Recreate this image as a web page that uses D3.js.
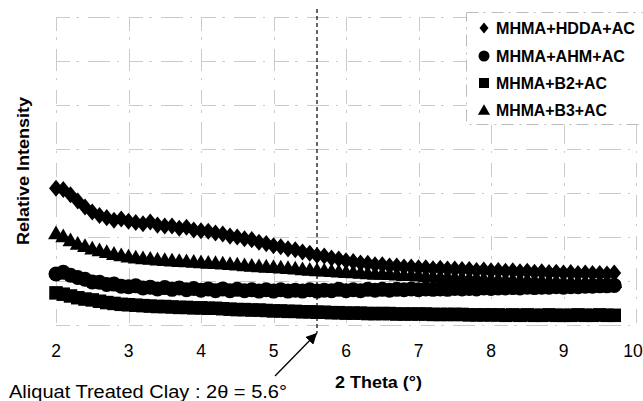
<!DOCTYPE html>
<html>
<head>
<meta charset="utf-8">
<script src="https://cdn.jsdelivr.net/npm/d3@7"></script>
<style>
  html, body { margin: 0; padding: 0; background: #fff; }
  svg { display: block; }
  text { font-family: Arial, "Liberation Sans", sans-serif; fill: #000; }
</style>
</head>
<body>
<svg id="chart" width="643" height="401"></svg>
<script>
// ---- data ----
const twoTheta = [2.0,2.1,2.2,2.3,2.4,2.5,2.6,2.7,2.8,2.9,3.0,3.1,3.2,3.3,3.4,3.5,3.6,3.7,3.8,3.9,
  4.0,4.1,4.2,4.3,4.4,4.5,4.6,4.7,4.8,4.9,5.0,5.1,5.2,5.3,5.4,5.5,5.6,5.7,5.8,5.9,
  6.0,6.1,6.2,6.3,6.4,6.5,6.6,6.7,6.8,6.9,7.0,7.1,7.2,7.3,7.4,7.5,7.6,7.7,7.8,7.9,
  8.0,8.1,8.2,8.3,8.4,8.5,8.6,8.7,8.8,8.9,9.0,9.1,9.2,9.3,9.4,9.5,9.6,9.7];

const hdda = [3.11,3.08,2.96,2.82,2.68,2.57,2.49,2.44,2.38,2.41,2.36,2.33,2.30,2.34,2.27,2.25,2.25,2.20,2.22,2.16,
  2.14,2.13,2.09,2.07,2.02,2.00,1.96,1.94,1.88,1.85,1.80,1.78,1.73,1.71,1.66,1.63,1.58,1.57,1.52,1.50,
  1.46,1.44,1.41,1.40,1.37,1.37,1.34,1.34,1.32,1.32,1.30,1.30,1.28,1.29,1.27,1.27,1.26,1.26,1.24,1.25,
  1.23,1.24,1.22,1.23,1.21,1.22,1.20,1.21,1.19,1.20,1.18,1.19,1.17,1.18,1.17,1.17,1.16,1.18];

const ahm = [1.16,1.20,1.13,1.08,1.04,0.98,0.97,0.92,0.93,0.88,0.87,0.89,0.84,0.86,0.82,0.85,0.81,0.84,0.80,0.83,
  0.79,0.82,0.78,0.82,0.78,0.81,0.78,0.80,0.77,0.80,0.77,0.80,0.77,0.79,0.77,0.80,0.77,0.79,0.78,0.81,
  0.78,0.80,0.78,0.81,0.79,0.81,0.79,0.81,0.80,0.82,0.80,0.82,0.81,0.82,0.81,0.83,0.82,0.83,0.82,0.84,
  0.83,0.84,0.84,0.85,0.84,0.86,0.85,0.86,0.86,0.87,0.86,0.87,0.87,0.88,0.88,0.89,0.89,0.90];

const b2 = [0.73,0.70,0.66,0.62,0.59,0.57,0.54,0.51,0.49,0.47,0.46,0.45,0.44,0.43,0.42,0.42,0.41,0.40,0.40,0.39,
  0.39,0.38,0.38,0.37,0.36,0.35,0.35,0.34,0.34,0.33,0.32,0.32,0.31,0.31,0.30,0.30,0.29,0.29,0.28,0.28,
  0.27,0.27,0.27,0.26,0.26,0.26,0.26,0.25,0.25,0.25,0.25,0.25,0.24,0.24,0.24,0.24,0.24,0.23,0.23,0.23,
  0.23,0.23,0.22,0.23,0.22,0.23,0.22,0.22,0.23,0.22,0.22,0.22,0.23,0.22,0.22,0.23,0.22,0.22];

const b3 = [2.09,2.02,1.93,1.85,1.80,1.74,1.70,1.66,1.62,1.59,1.56,1.54,1.52,1.51,1.49,1.48,1.47,1.46,1.45,1.44,
  1.43,1.42,1.41,1.40,1.39,1.38,1.36,1.35,1.34,1.33,1.32,1.31,1.30,1.29,1.27,1.26,1.25,1.24,1.23,1.22,
  1.21,1.20,1.19,1.18,1.17,1.17,1.16,1.15,1.14,1.14,1.13,1.12,1.11,1.10,1.10,1.09,1.08,1.07,1.07,1.06,
  1.05,1.05,1.04,1.04,1.03,1.03,1.02,1.02,1.01,1.01,1.00,1.00,0.99,0.99,0.99,0.98,0.98,0.98];

const seriesNames = ["MHMA+HDDA+AC","MHMA+AHM+AC","MHMA+B2+AC","MHMA+B3+AC"];
const seriesValues = [hdda, ahm, b2, b3];
const seriesShapes = ["diamond","circle","square","triangle"];

const xTicks = [2,3,4,5,6,7,8,9,10];
const yGrid = [0,1,2,3,4,5,6,7];
const markerTheta = 5.6;
const xTitle = "2 Theta (\u00B0)";
const yTitle = "Relative Intensity";
const annotation = "Aliquat Treated Clay : 2\u03B8 = 5.6\u00B0";

// ---- drawing ----
const svg = d3.select("#chart");
const x = d3.scaleLinear().domain([2, 10]).range([56, 636]);
const y = d3.scaleLinear().domain([0, 7]).range([325, 17]);

function shapePath(shape, s) {
  const h = s / 2;
  switch (shape) {
    case "diamond": return `M0,${-h*1.1}L${h*0.9},0L0,${h*1.1}L${-h*0.9},0Z`;
    case "square": return `M${-h},${-h}H${h}V${h}H${-h}Z`;
    case "triangle": return `M0,${-h*1.05}L${h*1.1},${h*0.85}L${-h*1.1},${h*0.85}Z`;
    default: return d3.arc()({innerRadius:0, outerRadius:h, startAngle:0, endAngle:2*Math.PI});
  }
}

// stretch a text horizontally to a target width
function fitWidth(sel, w) {
  sel.attr("textLength", w).attr("lengthAdjust", "spacingAndGlyphs");
}

// gridlines (faint, broken, like the scanned original)
const grid = svg.append("g").attr("stroke", "#cbcbcb").attr("stroke-width", 1)
  .attr("stroke-dasharray", "14,6,3,9,22,7,2,10");
grid.selectAll("line.h").data(yGrid).join("line")
  .attr("x1", x(2)).attr("x2", x(10)).attr("y1", d => Math.round(y(d)) + 0.5).attr("y2", d => Math.round(y(d)) + 0.5);
grid.selectAll("line.v").data(xTicks).join("line")
  .attr("y1", y(7)).attr("y2", y(0)).attr("x1", d => Math.round(x(d)) + 0.5).attr("x2", d => Math.round(x(d)) + 0.5);

// x tick labels
svg.append("g").selectAll("text").data(xTicks).join("text")
  .attr("x", d => Math.min(x(d), 633)).attr("y", 357).attr("text-anchor", "middle")
  .attr("font-size", 17.5).text(d => d);

// dashed reference line at 5.6
svg.append("line")
  .attr("x1", x(markerTheta)).attr("x2", x(markerTheta))
  .attr("y1", 9).attr("y2", 333)
  .attr("stroke", "#000").attr("stroke-width", 1.2).attr("stroke-dasharray", "4,3");

// series
const sizes = {diamond: 15.5, circle: 15, square: 13.5, triangle: 14.5};
seriesValues.forEach((vals, i) => {
  const shape = seriesShapes[i];
  svg.append("g").selectAll("path").data(vals).join("path")
    .attr("transform", (d, j) => `translate(${x(twoTheta[j])},${y(d)})`)
    .attr("d", shapePath(shape, sizes[shape]))
    .attr("fill", "#000");
});

// legend
const lg = svg.append("g");
lg.append("rect").attr("x", 466.5).attr("y", 12.5).attr("width", 180).attr("height", 112)
  .attr("fill", "#fff").attr("stroke", "#bbb").attr("stroke-dasharray", "12,5,2,6");
const legendY = [28, 56, 83, 110];
const legendW = [139, 129, 111, 111];
const legendSizes = {diamond: 10, circle: 11, square: 10, triangle: 11};
seriesNames.forEach((name, i) => {
  const shape = seriesShapes[i];
  lg.append("path").attr("transform", `translate(484,${legendY[i]})`)
    .attr("d", shapePath(shape, legendSizes[shape])).attr("fill", "#000");
  const t = lg.append("text").attr("x", 496).attr("y", legendY[i] + 6)
    .attr("font-size", 16.5).attr("font-weight", "bold").text(name);
  fitWidth(t, legendW[i]);
});

// axis titles
const xt = svg.append("text").attr("x", 335).attr("y", 388)
  .attr("font-size", 17).attr("font-weight", "bold").text(xTitle);
fitWidth(xt, 87);
const yt = svg.append("text").attr("transform", "translate(29,245) rotate(-90)")
  .attr("font-size", 16).attr("font-weight", "bold").text(yTitle);
fitWidth(yt, 148);

// annotation + arrow
svg.append("defs").append("marker").attr("id", "ah")
  .attr("viewBox", "0 0 10 10").attr("refX", 10).attr("refY", 5)
  .attr("markerWidth", 11).attr("markerHeight", 11).attr("markerUnits", "userSpaceOnUse")
  .attr("orient", "auto")
  .append("path").attr("d", "M0,0L10,5L0,10Z").attr("fill", "#000");
svg.append("line").attr("x1", 275).attr("y1", 376).attr("x2", x(markerTheta)).attr("y2", 333)
  .attr("stroke", "#000").attr("stroke-width", 1.3).attr("marker-end", "url(#ah)");
const an = svg.append("text").attr("x", 9).attr("y", 398).attr("font-size", 17.5).text(annotation);
fitWidth(an, 278);
</script>
</body>
</html>
